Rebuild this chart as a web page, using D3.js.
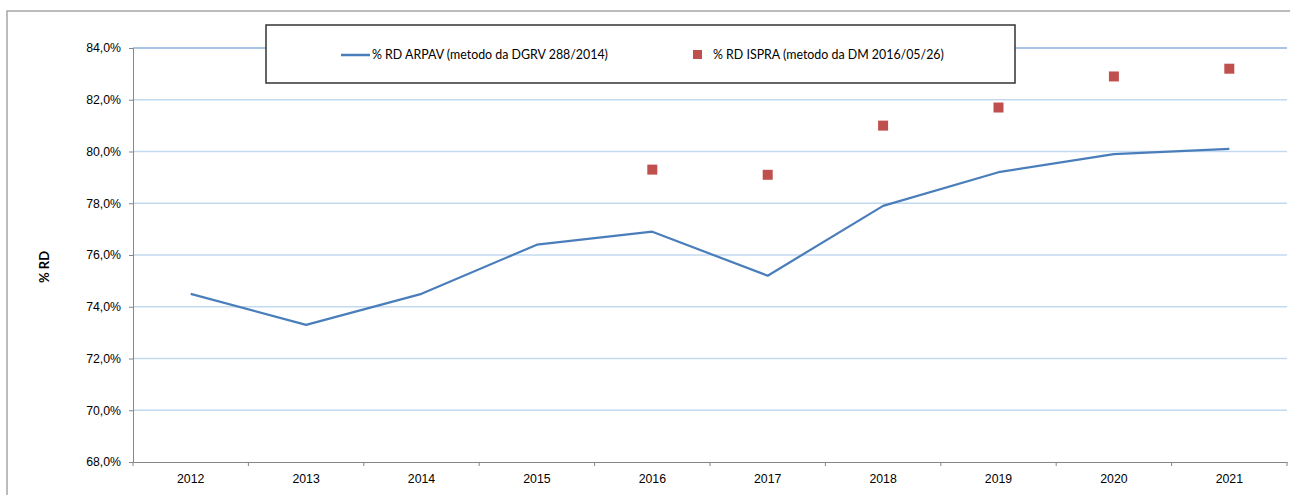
<!DOCTYPE html>
<html>
<head>
<meta charset="utf-8">
<script src="https://cdn.jsdelivr.net/npm/d3@7"></script>
<style>
  body { margin: 0; background: #fff; }
  svg { display: block; font-family: Lato, "Open Sans", sans-serif; }
</style>
</head>
<body>
<svg id="chart"></svg>
<script>
const width = 1290;
const height = 495;

const years = ["2012", "2013", "2014", "2015", "2016", "2017", "2018", "2019", "2020", "2021"];
const arpav = [74.5, 73.3, 74.5, 76.4, 76.9, 75.2, 77.9, 79.2, 79.9, 80.1];
const ispraYears = ["2016", "2017", "2018", "2019", "2020", "2021"];
const ispra = [79.3, 79.1, 81.0, 81.7, 82.9, 83.2];
const yTicks = [68, 70, 72, 74, 76, 78, 80, 82, 84];

const seriesNames = [
  "% RD ARPAV (metodo da DGRV 288/2014)",
  "% RD ISPRA (metodo da DM 2016/05/26)",
];

const lineColor = "#4a7ebb";
const markColor = "#c0504d";

const margin = { left: 133, right: 3, top: 48, bottom: 33 };

const svg = d3.select("#chart").attr("width", width).attr("height", height);

// outer frame
svg
  .append("rect")
  .attr("x", 7)
  .attr("y", 11)
  .attr("width", width + 20)
  .attr("height", height + 20)
  .attr("fill", "none")
  .attr("stroke", "#a6a6a6")
  .attr("stroke-width", 1.5);

const x = d3
  .scaleBand()
  .domain(years)
  .range([margin.left, width - margin.right]);

const y = d3
  .scaleLinear()
  .domain([68, 84])
  .range([height - margin.bottom, margin.top]);

const fmt = (v) => v.toFixed(1).replace(".", ",") + "%";

// gridlines
svg
  .append("g")
  .selectAll("line")
  .data(yTicks.filter((d) => d > 68))
  .enter()
  .append("line")
  .attr("x1", margin.left)
  .attr("x2", width - margin.right)
  .attr("y1", (d) => y(d))
  .attr("y2", (d) => y(d))
  .attr("stroke", (d) => (d === 84 ? "#8db3e2" : "#c2daf0"))
  .attr("stroke-width", 1.3);

// y axis
const yAxis = svg
  .append("g")
  .attr("transform", "translate(" + margin.left + ",0)")
  .call(d3.axisLeft(y).tickValues(yTicks).tickSize(4).tickPadding(8).tickFormat(fmt));
yAxis.select(".domain").attr("stroke", "#868686");
yAxis.selectAll(".tick line").attr("stroke", "#868686");
yAxis.selectAll("text").attr("font-size", 12.3).attr("fill", "#000");

// x axis
const xAxis = svg
  .append("g")
  .attr("transform", "translate(0," + y(68) + ")")
  .call(d3.axisBottom(x).tickSize(0).tickPadding(12));
xAxis.select(".domain").attr("stroke", "#868686");
xAxis.selectAll("text").attr("font-size", 12.3).attr("fill", "#000");

// x ticks between categories
svg
  .append("g")
  .selectAll("line")
  .data(years.concat(["end"]))
  .enter()
  .append("line")
  .attr("x1", (d, i) => margin.left + i * x.step())
  .attr("x2", (d, i) => margin.left + i * x.step())
  .attr("y1", y(68))
  .attr("y2", y(68) + 4)
  .attr("stroke", "#868686");

// y title
svg
  .append("text")
  .attr("transform", "translate(49," + (y(76) + 12) + ") rotate(-90)")
  .attr("text-anchor", "middle")
  .attr("font-size", 13)
  .attr("font-weight", "bold")
  .text("% RD");

// ARPAV line
const line = d3
  .line()
  .x((d, i) => x(years[i]) + x.bandwidth() / 2)
  .y((d) => y(d));

svg
  .append("path")
  .datum(arpav)
  .attr("d", line)
  .attr("fill", "none")
  .attr("stroke", lineColor)
  .attr("stroke-width", 2.2)
  .attr("stroke-linejoin", "round");

// ISPRA markers
const sq = 10;
svg
  .append("g")
  .selectAll("rect")
  .data(ispra)
  .enter()
  .append("rect")
  .attr("x", (d, i) => x(ispraYears[i]) + x.bandwidth() / 2 - sq / 2)
  .attr("y", (d) => y(d) - sq / 2)
  .attr("width", sq)
  .attr("height", sq)
  .attr("fill", markColor);

// legend
const legend = svg.append("g").attr("transform", "translate(266,25)");
legend
  .append("rect")
  .attr("width", 749)
  .attr("height", 58)
  .attr("fill", "#fff")
  .attr("stroke", "#333")
  .attr("stroke-width", 1.5);

legend
  .append("line")
  .attr("x1", 75)
  .attr("x2", 104)
  .attr("y1", 30)
  .attr("y2", 30)
  .attr("stroke", lineColor)
  .attr("stroke-width", 2.5);
legend
  .append("text")
  .attr("x", 106)
  .attr("y", 34)
  .attr("font-size", 12.4)
  .text(seriesNames[0]);

legend
  .append("rect")
  .attr("x", 427)
  .attr("y", 25)
  .attr("width", 9)
  .attr("height", 9)
  .attr("fill", markColor);
legend
  .append("text")
  .attr("x", 447)
  .attr("y", 34)
  .attr("font-size", 12.4)
  .text(seriesNames[1]);
</script>
</body>
</html>
